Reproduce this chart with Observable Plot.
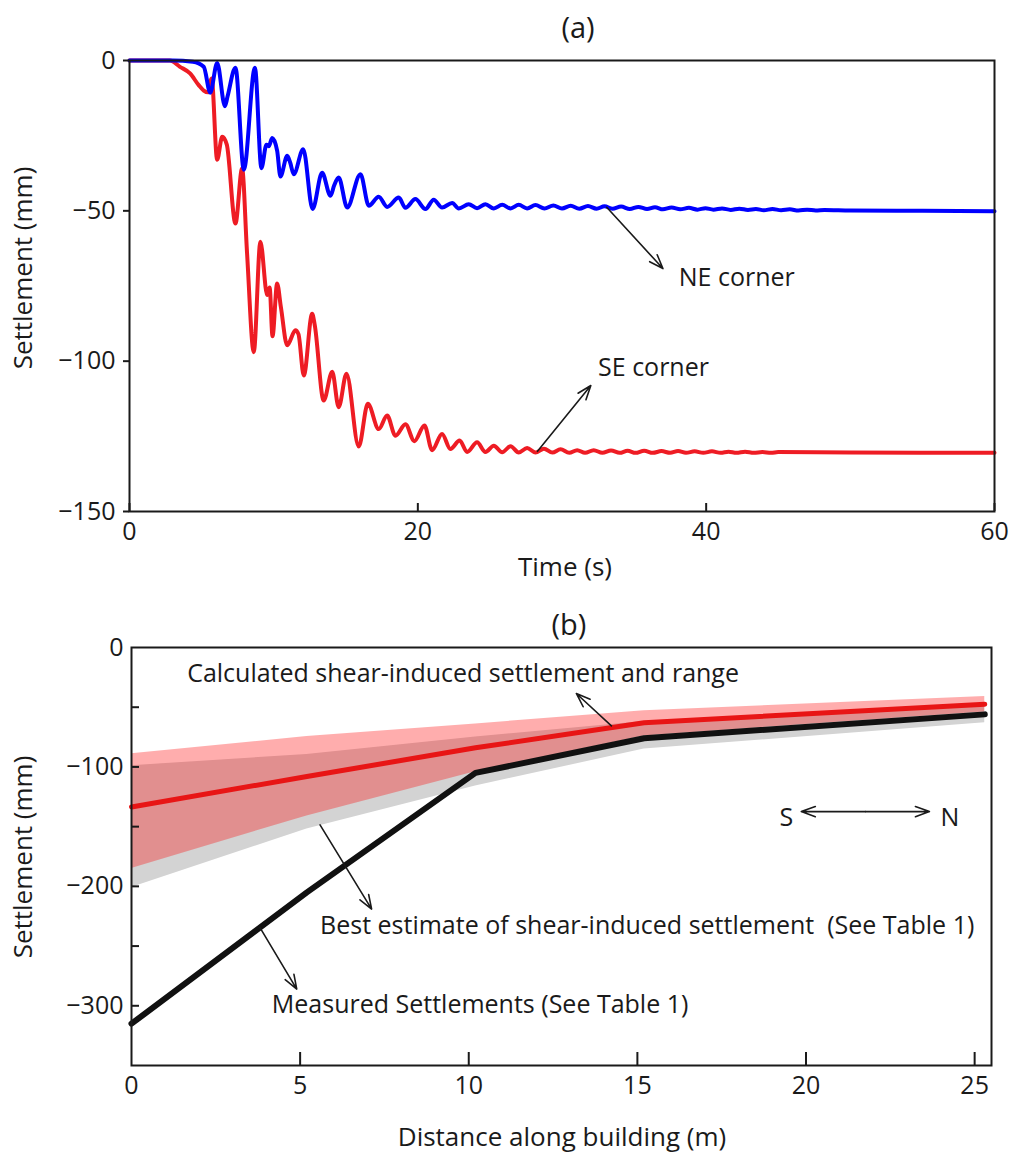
<!DOCTYPE html>
<html><head><meta charset="utf-8">
<script src="https://cdn.jsdelivr.net/npm/d3@7"></script>
<script src="https://cdn.jsdelivr.net/npm/@observablehq/plot@0.6"></script>
<style>
body{margin:0;background:#fff;font-family:"Open Sans",sans-serif;}
#wrap{position:relative;width:1010px;height:1158px;overflow:hidden;background:#fff;}
.lbl{position:absolute;color:#1a1a1a;white-space:nowrap;transform:translate(-50%,-50%);line-height:1;}
.rot{transform:translate(-50%,-50%) rotate(-90deg);}
#pa{position:absolute;left:0;top:0;}
#pb{position:absolute;left:0;top:600px;}
</style></head><body>
<div id="wrap">
<div id="pa"></div><div id="pb"></div>
<div class="lbl" style="left:578px;top:26px;font-size:29px">(a)</div>
<div class="lbl" style="left:569px;top:623px;font-size:29px">(b)</div>
<div class="lbl rot" style="left:22px;top:268px;font-size:26px">Settlement (mm)</div>
<div class="lbl" style="left:565px;top:566px;font-size:26px">Time (s)</div>
<div class="lbl rot" style="left:22px;top:857px;font-size:26px">Settlement (mm)</div>
<div class="lbl" style="left:562px;top:1136px;font-size:26px">Distance along building (m)</div>
</div>
<script>
// ---------- Panel (a): settlement time histories ----------
const neTime = [0,3.0,4.4,5.15,5.6,6.08,6.62,6.8,7.35,7.93,8.7,9.15,9.5,9.66,9.9,10.24,10.47,10.94,11.15,11.39,12.05,12.7,13.36,13.94,14.2,14.51,15.1,16.02,16.6,17.29,17.87,18.68,19.14,19.83,20.53,21.1,21.68,22.38,22.84,23.53,24.11,24.69,25.27,25.85,26.43,27.0,27.58,28.16,28.78,29.4,30.0,30.6,31.2,31.8,32.4,32.95,33.5,34.1,34.7,35.3,35.9,36.45,37.0,37.6,38.2,38.8,39.4,39.95,40.5,41.1,41.7,42.3,42.9,43.45,44.0,44.6,45.2,45.8,46.4,47.0,47.6,48.2,50,55,60];
const neSettle = [0,0,-0.4,-2.1,-10.7,-0.8,-15.2,-12,-2.4,-36.3,-2.4,-35.8,-28,-28.5,-25.8,-30,-38.6,-31.7,-34,-37.8,-29.5,-49.4,-37.3,-45,-41.5,-38.9,-48.9,-37.8,-48.3,-45.3,-48.7,-45.6,-49,-46.1,-49.4,-46.3,-48.9,-47.4,-49.2,-47.8,-49.1,-47.8,-49.2,-48.0,-49.2,-48.0,-49.2,-48.1,-49.2,-48.2,-49.2,-48.3,-49.3,-48.4,-49.3,-48.5,-49.3,-48.6,-49.4,-48.7,-49.4,-48.8,-49.5,-48.9,-49.5,-49.0,-49.6,-49.1,-49.6,-49.2,-49.7,-49.3,-49.7,-49.4,-49.8,-49.4,-49.8,-49.5,-49.9,-49.6,-49.9,-49.7,-49.9,-50,-50.1];
const seTime = [0,2.8,3.5,4.2,4.8,5.15,5.45,5.7,6.08,6.43,6.75,7.35,7.81,8.15,8.62,9.08,9.55,9.72,9.92,10.24,10.5,10.94,11.51,11.72,12.09,12.67,12.85,13.47,14.06,14.51,15.05,15.9,16.53,17.29,17.87,18.45,19.14,19.76,20.46,20.99,21.68,22.26,22.9,23.42,24.11,24.69,25.27,25.85,26.43,27.0,27.58,28.16,28.75,29.33,29.9,30.5,31.05,31.6,32.2,32.8,33.4,34.0,34.55,35.1,35.7,36.3,36.9,37.5,38.05,38.6,39.2,39.8,40.4,41.0,41.55,42.1,42.7,43.3,43.9,44.5,45.0,50,55,60];
const seSettle = [0,0,-2.1,-4.3,-8.2,-10,-10.6,-6,-33,-25.4,-28,-54.2,-35.9,-63.7,-97,-60.3,-78,-75.5,-91.7,-74.2,-82,-94.7,-89.7,-91,-104.8,-84.2,-88,-113.1,-103.5,-115.3,-104.2,-128.4,-114.2,-122.6,-118.1,-124.8,-121.0,-126.6,-121.4,-129.6,-124.2,-129.2,-126.4,-130.2,-127.0,-130.2,-128.1,-130.3,-128.3,-130.4,-128.9,-130.4,-129.1,-130.4,-129.3,-130.5,-129.6,-130.5,-129.6,-130.5,-129.7,-130.5,-129.8,-130.5,-129.8,-130.5,-129.9,-130.5,-129.9,-130.5,-130.0,-130.5,-130.0,-130.5,-130.1,-130.5,-130.1,-130.5,-130.2,-130.5,-130.2,-130.4,-130.5,-130.5];
const aXTicks = [0,20,40,60];
const aYTicks = [-150,-100,-50,0];
const aLabels = ["NE corner","SE corner"];
const aLabelX = [38.1,32.5];
const aLabelY = [-72.3,-102.4];
const aArrowX1 = [33.1,28.3], aArrowY1 = [-48.8,-130.0];
const aArrowX2 = [37.0,32.0], aArrowY2 = [-69.2,-108.1];

// ---------- Panel (b): settlement along building ----------
const distance   = [0,5.2,10.2,15.2,25.3];
const measured   = [-315,-205,-105,-76,-56];
const calculated = [-133.5,-108,-84,-63,-47.5];
const calcUpper  = [-89,-74.5,-64,-53,-41];
const calcLower  = [-185,-141,-104,-74,-54];
const bestUpper  = [-99,-89.5,-75,-62,-48];
const bestLower  = [-201,-152,-116,-85,-63];
const bXTicks = [0,5,10,15,20,25];
const bYLabelTicks = [0,-100,-200,-300];
const bYTicks = [-300,-250,-200,-150,-100,-50];
const bLabels = ["Calculated shear-induced settlement and range","Best estimate of shear-induced settlement  (See Table 1)","Measured Settlements (See Table 1)"];
const bLabelX = [1.65,5.59,4.16];
const bLabelY = [-22,-233,-299];
const bArrowX1 = [14.23,5.59,3.81], bArrowY1 = [-65.6,-148.5,-234.5];
const bArrowX2 = [13.19,7.12,4.9],  bArrowY2 = [-38.5,-219.1,-286];
const compassText = ["S","N"];
const compassX = [19.42,24.27];
const compassY = [-142.6,-142.6];
const compassMid = [21.76], compassEnds = [19.86,23.66], compassLevel = [-137.4];

const font = '"Open Sans", sans-serif';
const ink = "#1a1a1a";

const neRows = neTime.map((t,i)=>({t, s:neSettle[i]}));
const seRows = seTime.map((t,i)=>({t, s:seSettle[i]}));
const aLab = aLabels.map((text,i)=>({text,x:aLabelX[i],y:aLabelY[i]}));
const aArr = aArrowX1.map((x1,i)=>({x1,y1:aArrowY1[i],x2:aArrowX2[i],y2:aArrowY2[i]}));

const innerHA = 600-60-89;
const plotA = Plot.plot({
  width:1010, height:600,
  marginLeft:129, marginRight:16, marginTop:60, marginBottom:89,
  style:{fontFamily:font, fontSize:"25px", color:ink, background:"transparent"},
  x:{domain:[0,60]}, y:{domain:[-150,0]},
  marks:[
    Plot.line(seRows,{x:"t",y:"s",stroke:"#ee1c24",strokeWidth:4,curve:"monotone-x"}),
    Plot.line(neRows,{x:"t",y:"s",stroke:"#0000ff",strokeWidth:4,curve:"monotone-x"}),
    Plot.frame({stroke:ink,strokeWidth:2}),
    Plot.axisY(aYTicks,{tickSize:6,tickPadding:8,strokeWidth:2,label:null}),
    Plot.axisX(aXTicks,{tickSize:0,tickPadding:11,label:null}),
    Plot.tickX(aXTicks,{x:d=>d,insetTop:innerHA-8,stroke:ink,strokeWidth:2}),
    Plot.arrow(aArr,{x1:"x1",y1:"y1",x2:"x2",y2:"y2",stroke:ink,strokeWidth:1.6,headLength:14,headAngle:40}),
    Plot.text(aLab,{x:"x",y:"y",text:"text",textAnchor:"start",fontSize:25,fill:ink})
  ]
});
document.getElementById("pa").appendChild(plotA);

const rowsB = distance.map((d,i)=>({d,measured:measured[i],calculated:calculated[i],calcUpper:calcUpper[i],calcLower:calcLower[i],bestUpper:bestUpper[i],bestLower:bestLower[i]}));
const bLab = bLabels.map((text,i)=>({text,x:bLabelX[i],y:bLabelY[i]}));
const bArr = bArrowX1.map((x1,i)=>({x1,y1:bArrowY1[i],x2:bArrowX2[i],y2:bArrowY2[i]}));
const compArr = compassEnds.map(e=>({x1:compassMid[0],y1:compassLevel[0],x2:e,y2:compassLevel[0]}));
const compLab = compassText.map((text,i)=>({text,x:compassX[i],y:compassY[i]}));

const innerWB = 1010-131-19, innerHB = 558-47-93;
const plotB = Plot.plot({
  width:1010, height:558,
  marginLeft:131, marginRight:19, marginTop:47, marginBottom:93,
  style:{fontFamily:font, fontSize:"25px", color:ink, background:"transparent"},
  x:{domain:[0,25.5]}, y:{domain:[-350,0]},
  marks:[
    Plot.areaY(rowsB,{x:"d",y1:"bestLower",y2:"bestUpper",fill:"#d3d3d3"}),
    Plot.areaY(rowsB,{x:"d",y1:"calcLower",y2:"calcUpper",fill:"#ff0000",fillOpacity:0.32}),
    Plot.line(rowsB,{x:"d",y:"measured",stroke:"#111",strokeWidth:6,strokeLinejoin:"miter"}),
    Plot.line(rowsB,{x:"d",y:"calculated",stroke:"#e81515",strokeWidth:5}),
    Plot.frame({stroke:ink,strokeWidth:2}),
    Plot.axisY(bYLabelTicks,{tickSize:0,tickPadding:8,label:null}),
    Plot.tickY(bYTicks,{y:d=>d,insetRight:innerWB-8,stroke:ink,strokeWidth:2}),
    Plot.axisX(bXTicks,{tickSize:0,tickPadding:11,label:null}),
    Plot.tickX(bXTicks.slice(1),{x:d=>d,insetTop:innerHB-13,stroke:ink,strokeWidth:2}),
    Plot.arrow(bArr,{x1:"x1",y1:"y1",x2:"x2",y2:"y2",stroke:ink,strokeWidth:1.6,headLength:14,headAngle:40}),
    Plot.arrow(compArr,{x1:"x1",y1:"y1",x2:"x2",y2:"y2",stroke:ink,strokeWidth:1.6,headLength:14,headAngle:40}),
    Plot.text(bLab,{x:"x",y:"y",text:"text",textAnchor:"start",fontSize:25,fill:ink}),
    Plot.text(compLab,{x:"x",y:"y",text:"text",fontSize:25,fill:ink})
  ]
});
document.getElementById("pb").appendChild(plotB);
</script>
</body></html>
